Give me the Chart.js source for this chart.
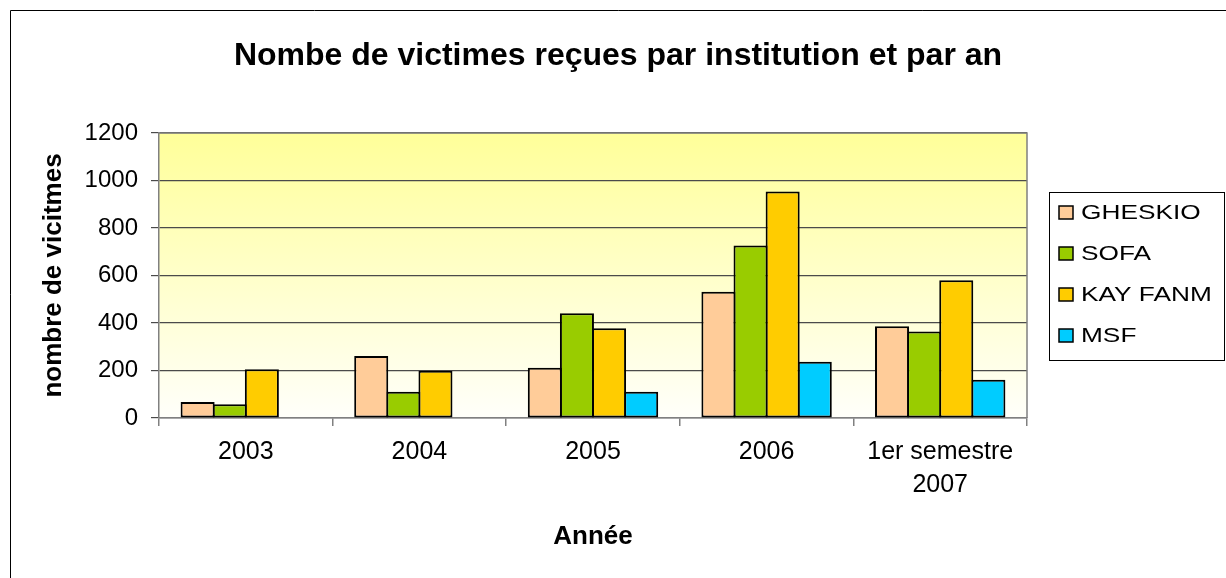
<!DOCTYPE html>
<html>
<head>
<meta charset="utf-8">
<script src="https://cdn.jsdelivr.net/npm/chart.js@4"></script>
<style>
  body { margin: 0; background: #fff; }
  #wrap { position: relative; width: 1226px; height: 578px; }
</style>
</head>
<body>
<div id="wrap"><canvas id="victimes"></canvas></div>
<script>
// donnees
const annees = ['2003', '2004', '2005', '2006', ['1er semestre', '2007']];
const gheskio = [67, 261, 212, 532, 386];
const sofa = [58, 111, 441, 726, 364];
const kayFanm = [205, 199, 378, 954, 580];
const msf = [null, null, 111, 237, 161];
const yTicks = [0, 200, 400, 600, 800, 1000, 1200];

const FONT = "'Liberation Sans', Arial, sans-serif";

document.addEventListener("DOMContentLoaded", function () {
  Chart.defaults.font.family = FONT;
  Chart.defaults.color = '#000';

  // fond jaune degrade + cadre exterieur
  const fondPlugin = {
    id: 'fond',
    beforeDraw(chart) {
      const ctx = chart.ctx;
      const a = chart.chartArea;
      ctx.save();
      ctx.fillStyle = '#fff';
      ctx.fillRect(0, 0, chart.width, chart.height);
      const grad = ctx.createLinearGradient(0, a.top, 0, a.bottom);
      grad.addColorStop(0, '#ffff99');
      grad.addColorStop(1, '#fffffa');
      ctx.fillStyle = grad;
      ctx.fillRect(a.left, a.top, a.right - a.left, a.bottom - a.top);
      ctx.strokeStyle = '#000';
      ctx.lineWidth = 1;
      ctx.beginPath();
      ctx.moveTo(10.5, chart.height);
      ctx.lineTo(10.5, 10.5);
      ctx.lineTo(chart.width, 10.5);
      ctx.stroke();
      ctx.restore();
    },
    beforeDatasetsDraw(chart) {
      const ctx = chart.ctx;
      const a = chart.chartArea;
      ctx.save();
      ctx.strokeStyle = '#808080';
      ctx.lineWidth = 1.5;
      ctx.beginPath();
      ctx.moveTo(a.left, a.top);
      ctx.lineTo(a.right, a.top);
      ctx.lineTo(a.right, a.bottom);
      ctx.stroke();
      ctx.restore();
    }
  };

  // legende encadree a droite
  const legendePlugin = {
    id: 'legende',
    afterDraw(chart) {
      const ctx = chart.ctx;
      const bx = 1049.5, by = 192.5, bw = 175, bh = 168;
      ctx.save();
      ctx.fillStyle = '#fff';
      ctx.fillRect(bx, by, bw, bh);
      ctx.strokeStyle = '#000';
      ctx.lineWidth = 1;
      ctx.strokeRect(bx, by, bw, bh);
      chart.data.datasets.forEach((ds, i) => {
        const cy = 212 + i * 41;
        ctx.fillStyle = ds.backgroundColor;
        ctx.fillRect(1059, cy - 6, 14, 13);
        ctx.strokeStyle = '#000';
        ctx.lineWidth = 1.5;
        ctx.strokeRect(1059, cy - 6, 14, 13);
        ctx.save();
        ctx.translate(1081, cy + 1);
        ctx.scale(1.25, 1);
        ctx.fillStyle = '#000';
        ctx.font = '21px ' + FONT;
        ctx.textAlign = 'left';
        ctx.textBaseline = 'middle';
        ctx.fillText(ds.label, 0, 0);
        ctx.restore();
      });
      ctx.restore();
    }
  };

  const ctx = document.getElementById('victimes');
  new Chart(ctx, {
    type: 'bar',
    data: {
      labels: annees,
      datasets: [
        { label: 'GHESKIO', data: gheskio, backgroundColor: '#ffcc99' },
        { label: 'SOFA', data: sofa, backgroundColor: '#99cc00' },
        { label: 'KAY FANM', data: kayFanm, backgroundColor: '#ffcc00' },
        { label: 'MSF', data: msf, backgroundColor: '#00ccff' }
      ].map(d => Object.assign(d, {
        borderColor: '#000',
        borderWidth: 2,
        borderSkipped: false,
        categoryPercentage: 0.74,
        barPercentage: 1.06
      }))
    },
    options: {
      responsive: true,
      maintainAspectRatio: false,
      animation: false,
      layout: { padding: { left: 10, right: 0, top: 0, bottom: 0 } },
      plugins: {
        legend: { display: false },
        tooltip: { enabled: false },
        title: {
          display: true,
          text: 'Nombe de victimes reçues par institution et par an',
          color: '#000',
          font: { size: 32, weight: 'bold' },
          padding: { top: 37, bottom: 57.6 }
        }
      },
      scales: {
        x: {
          grid: {
            offset: true,
            drawOnChartArea: false,
            drawTicks: true,
            tickLength: 8,
            color: '#808080',
            lineWidth: 1.5
          },
          border: { display: true, color: '#808080', width: 1.5 },
          ticks: {
            padding: 10,
            maxRotation: 0,
            font: { size: 25, lineHeight: 1.32 }
          },
          title: {
            display: true,
            text: 'Année',
            font: { size: 26, weight: 'bold' },
            padding: { top: 0, bottom: 26 }
          },
          afterFit(scale) { scale.height = 160; }
        },
        y: {
          min: 0,
          max: 1200,
          afterBuildTicks(scale) {
            scale.ticks = yTicks.map(v => ({ value: v }));
          },
          grid: {
            color: '#4a4a4a',
            lineWidth: 1.2,
            drawTicks: true,
            tickLength: 8
          },
          border: { display: true, color: '#808080', width: 1.5 },
          ticks: {
            padding: 13,
            font: { size: 24 },
            callback: (v) => String(v)
          },
          title: {
            display: true,
            text: 'nombre de vicitmes',
            font: { size: 26, weight: 'bold' },
            padding: { top: 28, bottom: 0 }
          },
          afterFit(scale) { scale.width = 149; }
        },
        marge: {
          position: 'right',
          display: true,
          grid: { display: false },
          border: { display: false },
          ticks: { display: false },
          afterFit(scale) { scale.width = 199; }
        }
      }
    },
    plugins: [fondPlugin, legendePlugin]
  });
});
</script>
</body>
</html>
